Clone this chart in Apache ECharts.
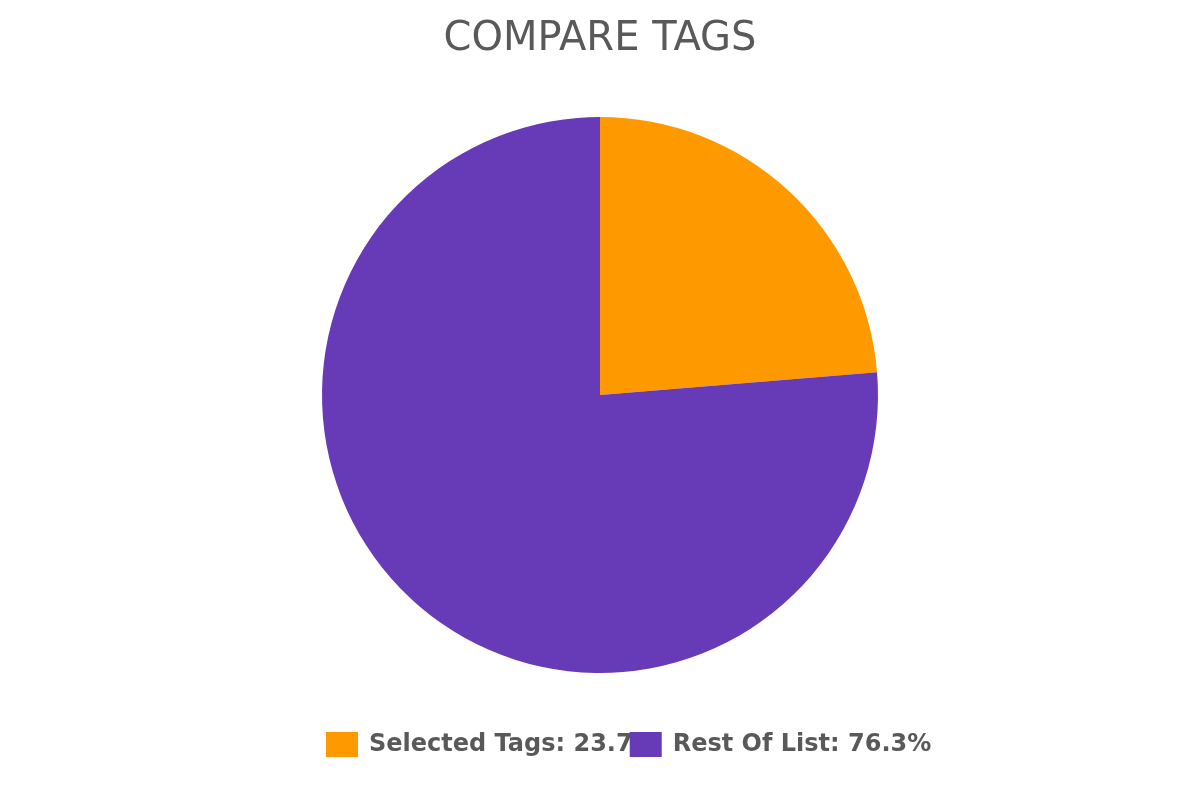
<!DOCTYPE html>
<html><head><meta charset="utf-8">
<script src="https://cdn.jsdelivr.net/npm/echarts@6/dist/echarts.min.js"></script>
<style>html,body{margin:0;padding:0;background:#fff}#c{width:1200px;height:800px}</style>
</head><body><div id="c"></div>
<script>
const categories = ['Selected Tags', 'Rest Of List'];
const values = [23.7, 76.3];
const colors = ['#FF9900', '#673AB7'];

const chart = echarts.init(document.getElementById('c'));
chart.setOption({
  animation: false,
  title: {
    text: 'COMPARE TAGS', left: 'center', top: 15,
    textStyle: { fontFamily: 'DejaVu Sans', fontSize: 40, fontWeight: 'normal', color: '#595959' }
  },
  legend: {
    bottom: 43, left: 326, icon: 'rect', itemWidth: 32, itemHeight: 25, itemGap: -27,
    padding: 0,
    data: categories,
    formatter: function (n) { return n + ': ' + values[categories.indexOf(n)] + '%'; },
    textStyle: { fontFamily: 'DejaVu Sans', fontSize: 24, fontWeight: 'bold', color: '#595959', padding: [0,0,0,6] }
  },
  series: [{
    type: 'pie', center: [600, 395], radius: 278, startAngle: 90, clockwise: true,
    label: { show: false }, labelLine: { show: false },
    itemStyle: { borderWidth: 0 },
    emphasis: { disabled: true },
    data: categories.map((c, i) => ({ name: c, value: values[i], itemStyle: { color: colors[i] } }))
  }]
});
</script></body></html>
